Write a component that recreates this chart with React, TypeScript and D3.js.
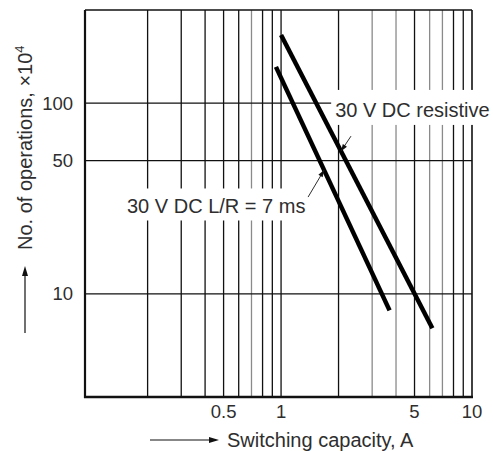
import React from "react";
import * as d3 from "d3";

const WIDTH = 493;
const HEIGHT = 451;
const PLOT = { LEFT: 85, RIGHT: 472, TOP: 10, BOTTOM: 397 };
const FONT = "'Liberation Sans', Arial, Helvetica, sans-serif";
const INK = "#2e2e2e";

// axis limits
const X_DOMAIN: [number, number] = [0.094, 10];
const Y_DOMAIN: [number, number] = [2.88, 308];

const xGrid = [0.2, 0.3, 0.4, 0.5, 0.6, 0.7, 0.8, 0.9, 1, 2, 3, 4, 5, 6, 7, 8, 9];
const xGridLight = [0.7, 3, 4, 6, 7];
const yGrid = [10, 50, 100];

const xTicks = [0.5, 1, 5, 10];
const xTickLabels = ["0.5", "1", "5", "10"];
const yTicks = [100, 50, 10];
const yTickLabels = ["100", "50", "10"];

// [A, x10^4 operations]
const resistive: [number, number][] = [
  [1, 228],
  [6.2, 6.6],
];
const inductive: [number, number][] = [
  [0.94, 155],
  [3.7, 8.2],
];

// labels: anchor in data space, arrow tip on the curve at tipX
const labels = [
  { text: "30 V DC resistive", x: 1.92, y: 84.7, curve: resistive, tipX: 2.06, tail: [10, -15], box: [-4, 158, -27, 8] },
  { text: "30 V DC L/R = 7 ms", x: 0.156, y: 26.4, curve: inductive, tipX: 1.68, tail: [-16, 27], box: [-2, 183, -25, 7] },
];

const onCurve = (curve: [number, number][], x: number) => {
  const [[x0, y0], [x1, y1]] = curve;
  const t = (Math.log(x) - Math.log(x0)) / (Math.log(x1) - Math.log(x0));
  return Math.exp(Math.log(y0) + t * (Math.log(y1) - Math.log(y0)));
};

const Arrowhead: React.FC<{ x: number; y: number; angle: number; len?: number; w?: number }> = ({ x, y, angle, len = 9, w = 3 }) => (
  <path
    d={`M0,0 L${-len},${-w} L${-len},${w} Z`}
    fill="#111"
    transform={`translate(${x},${y}) rotate(${angle})`}
  />
);

const App: React.FC = () => {
  const x = d3.scaleLog().domain(X_DOMAIN).range([PLOT.LEFT, PLOT.RIGHT]);
  const y = d3.scaleLog().domain(Y_DOMAIN).range([PLOT.BOTTOM, PLOT.TOP]);
  const line = d3
    .line<[number, number]>()
    .x((d) => x(d[0]))
    .y((d) => y(d[1]));

  return (
    <svg
      width={WIDTH}
      height={HEIGHT}
      style={{ position: "absolute", left: 0, top: 0, background: "#fff" }}
      fontFamily={FONT}
    >
      {/* grid */}
      {xGrid.map((v) => (
        <line
          key={`vx${v}`}
          x1={x(v)}
          x2={x(v)}
          y1={PLOT.TOP}
          y2={PLOT.BOTTOM}
          stroke={xGridLight.includes(v) ? "#8a8a8a" : "#111"}
          strokeWidth={1.3}
        />
      ))}
      {yGrid.map((v) => (
        <line key={`hy${v}`} x1={PLOT.LEFT} x2={PLOT.RIGHT} y1={y(v)} y2={y(v)} stroke="#111" strokeWidth={1.3} />
      ))}

      {/* frame */}
      <line x1={PLOT.LEFT} x2={PLOT.RIGHT} y1={PLOT.TOP} y2={PLOT.TOP} stroke="#111" strokeWidth={1.6} />
      <line x1={PLOT.RIGHT} x2={PLOT.RIGHT} y1={PLOT.TOP} y2={PLOT.BOTTOM} stroke="#111" strokeWidth={1.6} />
      <line x1={PLOT.LEFT} x2={PLOT.LEFT} y1={PLOT.TOP} y2={PLOT.BOTTOM + 1} stroke="#111" strokeWidth={2.2} />
      <line x1={PLOT.LEFT - 1} x2={PLOT.RIGHT + 1} y1={PLOT.BOTTOM} y2={PLOT.BOTTOM} stroke="#111" strokeWidth={2.6} />

      {/* label boxes hide grid */}
      {labels.map((l) => (
        <rect
          key={`box${l.text}`}
          x={x(l.x) + l.box[0]}
          y={y(l.y) + l.box[2]}
          width={l.box[1] - l.box[0]}
          height={l.box[3] - l.box[2]}
          fill="#fff"
        />
      ))}

      {/* curves */}
      {[resistive, inductive].map((c, i) => (
        <path key={`c${i}`} d={line(c) || ""} fill="none" stroke="#000" strokeWidth={4.5} />
      ))}

      {/* labels + pointer arrows */}
      {labels.map((l) => {
        const tx = x(l.tipX);
        const ty = y(onCurve(l.curve, l.tipX));
        const sx = tx + l.tail[0];
        const sy = ty + l.tail[1];
        const ang = (Math.atan2(ty - sy, tx - sx) * 180) / Math.PI;
        return (
          <g key={l.text}>
            <line x1={sx} y1={sy} x2={tx} y2={ty} stroke={INK} strokeWidth={1} />
            <Arrowhead x={tx} y={ty} angle={ang} len={7} w={2.5} />
            <text x={x(l.x)} y={y(l.y)} fontSize={20} fill={INK}>
              {l.text}
            </text>
          </g>
        );
      })}

      {/* y tick labels */}
      {yTicks.map((v, i) => (
        <text key={`yt${v}`} x={PLOT.LEFT - 12} y={y(v) + 6.5} fontSize={18.5} textAnchor="end" fill={INK}>
          {yTickLabels[i]}
        </text>
      ))}

      {/* x tick labels */}
      {xTicks.map((v, i) => (
        <text key={`xt${v}`} x={x(v)} y={PLOT.BOTTOM + 21} fontSize={18.5} textAnchor="middle" fill={INK}>
          {xTickLabels[i]}
        </text>
      ))}

      {/* x title */}
      <line x1={150} x2={212} y1={440} y2={440} stroke="#111" strokeWidth={1.2} />
      <Arrowhead x={219} y={440} angle={0} len={10} w={3} />
      <text x={227} y={447} fontSize={20} fill={INK}>
        Switching capacity, A
      </text>

      {/* y title */}
      <line x1={25} x2={25} y1={333} y2={274} stroke="#111" strokeWidth={1.2} />
      <Arrowhead x={25} y={266} angle={-90} len={10} w={3} />
      <text transform="translate(32,250) rotate(-90)" fontSize={20} fill={INK}>
        No. of operations, ×10
        <tspan fontSize={13} dy={-8}>
          4
        </tspan>
      </text>
    </svg>
  );
};

export default App;
